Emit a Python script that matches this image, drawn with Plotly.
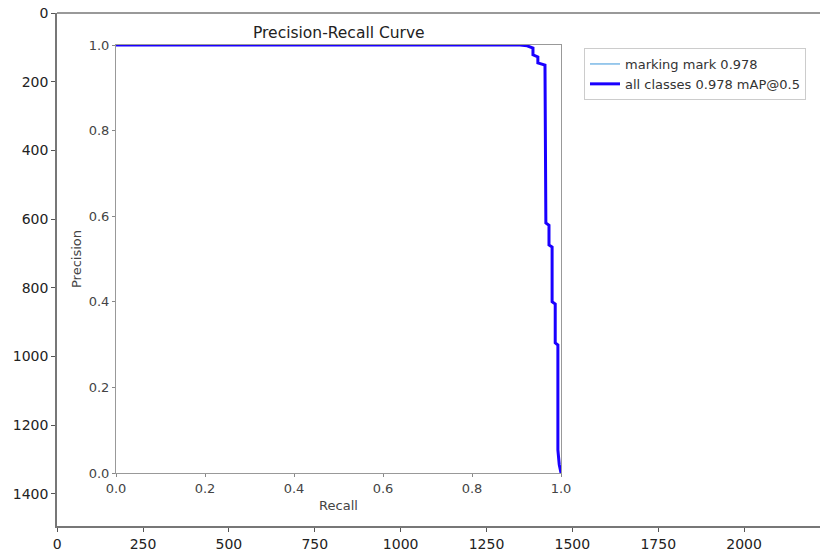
import plotly.graph_objects as go

# Precision-recall curve points (recall, precision)
recall = [0.0, 0.908, 0.924, 0.937, 0.937, 0.948, 0.948, 0.964, 0.966, 0.973, 0.973,
          0.980, 0.980, 0.987, 0.987, 0.993, 0.993, 0.996, 1.0]
precision = [1.0, 1.0, 0.998, 0.993, 0.977, 0.972, 0.958, 0.953, 0.584, 0.579, 0.533,
             0.528, 0.400, 0.395, 0.304, 0.299, 0.054, 0.02, 0.0]

class_label = "marking mark 0.978"
all_label = "all classes 0.978 mAP@0.5"
title_text = "Precision-Recall Curve"

# outer pixel-coordinate frame
outer_x_ticks = [0, 250, 500, 750, 1000, 1250, 1500, 1750, 2000]
outer_y_ticks = [0, 200, 400, 600, 800, 1000, 1200, 1400]
inner_ticks = [0.0, 0.2, 0.4, 0.6, 0.8, 1.0]

W, H = 820, 553
ML, MR, MT, MB = 57, 0, 13, 27
pw, ph = W - ML - MR, H - MT - MB

def px_x(x):
    return (x - ML) / pw

def px_y(y):
    return (H - MB - y) / ph

font_family = "DejaVu Sans"

fig = go.Figure()

# invisible anchor so the outer pixel axes are drawn
fig.add_trace(go.Scatter(
    x=[0], y=[0], mode="markers", marker=dict(opacity=0), showlegend=False,
    hoverinfo="skip", xaxis="x", yaxis="y",
))

fig.add_trace(go.Scatter(
    x=recall, y=precision, mode="lines", name=class_label,
    line=dict(color="#5aa7e0", width=1.2), xaxis="x2", yaxis="y2",
))
fig.add_trace(go.Scatter(
    x=recall, y=precision, mode="lines", name=all_label,
    line=dict(color="#1a00ff", width=3), xaxis="x2", yaxis="y2",
))

fig.update_layout(
    width=W, height=H,
    margin=dict(l=ML, r=MR, t=MT, b=MB, autoexpand=False),
    paper_bgcolor="white", plot_bgcolor="white",
    font=dict(family=font_family, color="#222"),
    xaxis=dict(
        domain=[0, 1], range=[-0.5, 2221], tickvals=outer_x_ticks,
        showgrid=False, zeroline=False, showline=True, linecolor="#777", linewidth=1.5,
        ticks="outside", ticklen=4, tickcolor="#555", tickfont=dict(size=14, color="#222"),
        fixedrange=True,
    ),
    yaxis=dict(
        domain=[0, 1], range=[1494, -0.5], tickvals=outer_y_ticks,
        showgrid=False, zeroline=False, showline=True, linecolor="#777", linewidth=1.5,
        ticks="outside", ticklen=4, tickcolor="#555", tickfont=dict(size=14, color="#222"),
        fixedrange=True,
    ),
    xaxis2=dict(
        domain=[px_x(116), px_x(561)], anchor="y2", range=[0, 1], tickvals=inner_ticks,
        tickformat=".1f", showgrid=False, zeroline=False, showline=True, mirror=True,
        linecolor="#999", linewidth=1, ticks="outside", ticklen=3, tickcolor="#888",
        tickfont=dict(size=13, color="#444"),
        title=dict(text="Recall", font=dict(size=13, color="#444"), standoff=6),
    ),
    yaxis2=dict(
        domain=[px_y(473), px_y(45)], anchor="x2", range=[0, 1], tickvals=inner_ticks,
        tickformat=".1f", showgrid=False, zeroline=False, showline=True, mirror=True,
        linecolor="#999", linewidth=1, ticks="outside", ticklen=3, tickcolor="#888",
        tickfont=dict(size=13, color="#444"),
        title=dict(text="Precision", font=dict(size=13, color="#444"), standoff=4),
    ),
    legend=dict(
        x=px_x(584), y=px_y(48), xanchor="left", yanchor="top",
        bordercolor="#ccc", borderwidth=1, bgcolor="white",
        font=dict(size=13, color="#333"), tracegroupgap=0,
    ),
    showlegend=True,
    shapes=[dict(type="line", xref="paper", yref="paper", x0=0, x1=1, y0=1, y1=1,
                 line=dict(color="#777", width=1.5))],
    annotations=[dict(
        text=title_text, xref="paper", yref="paper",
        x=(px_x(116) + px_x(561)) / 2, y=px_y(33), xanchor="center", yanchor="middle",
        showarrow=False, font=dict(size=15.5, color="#222"),
    )],
)

fig.write_html("out.html")
